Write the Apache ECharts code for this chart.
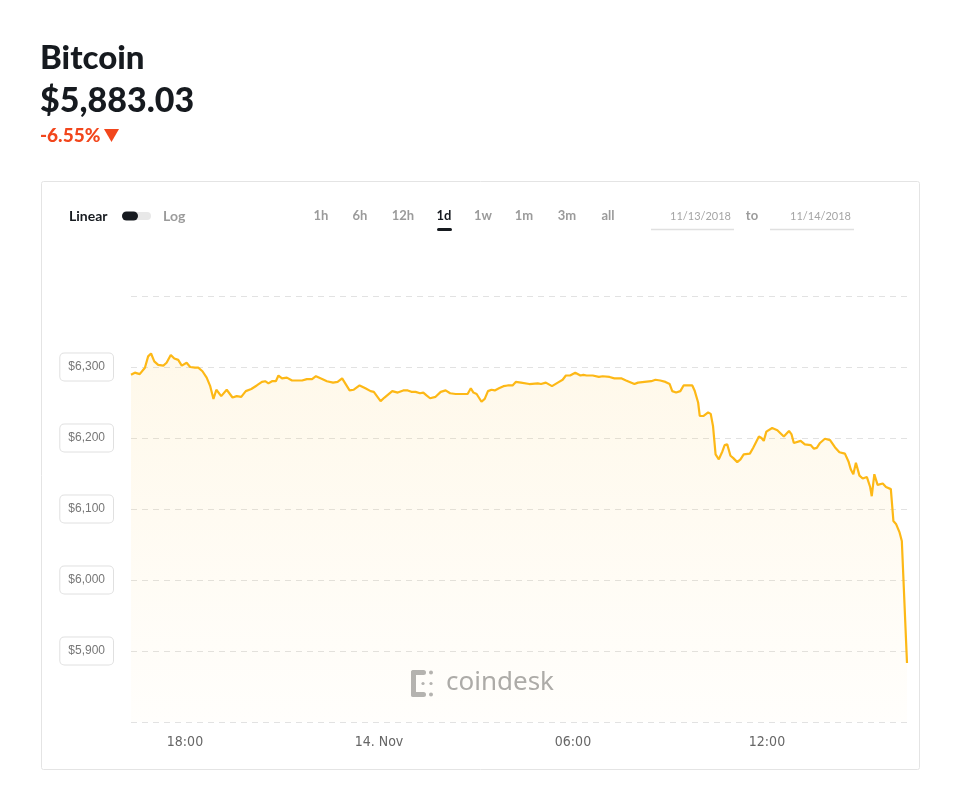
<!DOCTYPE html>
<html>
<head>
<meta charset="utf-8">
<title>Bitcoin</title>
<script src="https://cdn.jsdelivr.net/npm/echarts@6/dist/echarts.min.js"></script>
<style>
  html, body { margin: 0; padding: 0; background: #fff; }
  #main { width: 960px; height: 811px; }
</style>
</head>
<body>
<div id="main"></div>
<script>
// hours counted from 13 Nov 00:00 (so 24 = 14. Nov 00:00)
const hours = [
  16.33, 16.45, 16.60, 16.76, 16.86, 16.95, 17.05, 17.17, 17.33, 17.43,
  17.56, 17.67, 17.79, 17.90, 18.05, 18.16, 18.31, 18.41, 18.54, 18.67,
  18.78, 18.88, 18.97, 19.12, 19.29, 19.47, 19.60, 19.74, 19.88, 20.05,
  20.22, 20.38, 20.48, 20.58, 20.69, 20.81, 20.89, 21.00, 21.15, 21.31,
  21.46, 21.62, 21.77, 21.93, 22.05, 22.19, 22.39, 22.58, 22.72, 22.86,
  23.09, 23.22, 23.40, 23.58, 23.74, 23.84, 24.05, 24.17, 24.41, 24.58,
  24.75, 24.89, 25.00, 25.13, 25.27, 25.37, 25.47, 25.58, 25.75, 25.91,
  26.06, 26.20, 26.37, 26.53, 26.74, 26.84, 26.92, 27.02, 27.17, 27.27,
  27.37, 27.48, 27.58, 27.71, 27.85, 27.98, 28.13, 28.23, 28.39, 28.65,
  28.91, 29.01, 29.16, 29.35, 29.53, 29.68, 29.78, 29.91, 30.07, 30.23,
  30.32, 30.42, 30.61, 30.80, 30.92, 31.13, 31.28, 31.49, 31.64, 31.90,
  32.01, 32.21, 32.42, 32.55, 32.70, 32.86, 32.99, 33.07, 33.19, 33.32,
  33.42, 33.56, 33.69, 33.76, 33.87, 33.92, 34.04, 34.10, 34.18, 34.26,
  34.33, 34.41, 34.51, 34.62, 34.69, 34.77, 34.87, 34.95, 35.08, 35.18,
  35.28, 35.47, 35.57, 35.75, 35.83, 35.90, 35.98, 36.16, 36.32, 36.52,
  36.68, 36.76, 36.83, 37.04, 37.17, 37.35, 37.45, 37.54, 37.64, 37.79,
  37.95, 38.10, 38.24, 38.41, 38.52, 38.59, 38.67, 38.75, 38.86, 38.96,
  39.09, 39.19, 39.24, 39.32, 39.42, 39.58, 39.68, 39.83, 39.91, 39.99,
  40.10, 40.17, 40.33
];
const prices = [
  6289, 6292, 6290, 6299, 6315, 6319, 6308, 6303, 6302, 6306,
  6317, 6312, 6310, 6302, 6306, 6300, 6299, 6299, 6294, 6285,
  6273, 6255, 6268, 6259, 6268, 6257, 6259, 6258, 6266, 6269,
  6274, 6279, 6280, 6277, 6280, 6280, 6288, 6284, 6285, 6281,
  6281, 6281, 6283, 6283, 6287, 6284, 6280, 6278, 6279, 6284,
  6267, 6268, 6274, 6270, 6266, 6265, 6252, 6257, 6266, 6264,
  6267, 6267, 6265, 6265, 6263, 6264, 6260, 6256, 6258, 6265,
  6267, 6263, 6262, 6262, 6262, 6270, 6264, 6262, 6251, 6255,
  6266, 6268, 6267, 6270, 6273, 6274, 6274, 6279, 6278, 6276,
  6277, 6276, 6278, 6273, 6278, 6282, 6288, 6288, 6292, 6288,
  6289, 6288, 6288, 6286, 6287, 6286, 6284, 6284, 6281, 6276,
  6278, 6279, 6280, 6282, 6281, 6279, 6276, 6266, 6264, 6266,
  6274, 6274, 6274, 6267, 6250, 6231, 6231, 6229, 6236, 6234,
  6217, 6177, 6170, 6181, 6190, 6191, 6175, 6172, 6166, 6170,
  6177, 6178, 6186, 6202, 6200, 6196, 6209, 6214, 6211, 6202,
  6210, 6205, 6193, 6196, 6191, 6190, 6185, 6186, 6193, 6199,
  6197, 6187, 6180, 6178, 6167, 6156, 6149, 6165, 6147, 6143,
  6145, 6131, 6118, 6149, 6134, 6136, 6131, 6128, 6083, 6079,
  6067, 6055, 5883.03
];
const xTickHours = [18, 24, 30, 36];
const rangeButtons = ['1h', '6h', '12h', '1d', '1w', '1m', '3m', 'all'];
const rangeButtonX = [321, 360, 403, 444, 483, 524, 567, 608];
const activeRange = '1d';
const fromDate = '11/13/2018';
const toDate = '11/14/2018';

const chart = echarts.init(document.getElementById('main'));

const uiFont = 'Lato, "Noto Sans", sans-serif';
const grayText = '#9b9b9b';
const darkText = '#161a1f';
const red = '#f2461c';

// small helper so text is placed by its anchor point, not its box
function label(text, x, y, font, fill, align) {
  return {
    type: 'text', x: x, y: y,
    style: { text: text, align: align || 'left', verticalAlign: 'middle', font: font, fill: fill }
  };
}

const buttonTexts = rangeButtons.map(function (b, i) {
  return label(b, rangeButtonX[i], 216, 'bold 13px ' + uiFont,
    b === activeRange ? darkText : grayText, 'center');
});

const option = {
  animation: false,
  grid: { left: 131, right: 53, top: 296, bottom: 89 },
  xAxis: {
    type: 'value',
    min: hours[0],
    max: hours[hours.length - 1],
    axisLine: { show: false },
    axisTick: { show: false },
    splitLine: { show: false },
    axisLabel: {
      customValues: xTickHours,
      margin: 13,
      color: '#666',
      fontSize: 14,
      fontFamily: '"Liberation Sans Narrow", "DejaVu Sans Condensed", "Liberation Sans", sans-serif',
      formatter: function (v) {
        const h = Math.round(v) % 24;
        if (h === 0) return '14. Nov';
        return (h < 10 ? '0' + h : h) + ':00';
      }
    }
  },
  yAxis: {
    type: 'value',
    min: 5800,
    max: 6400,
    interval: 100,
    axisLine: { show: false },
    axisTick: { show: false },
    splitLine: { lineStyle: { color: '#e2e2e2', type: [6, 5], width: 1 } },
    axisLabel: {
      showMinLabel: false,
      showMaxLabel: false,
      margin: 18,
      color: '#777',
      fontSize: 12,
      fontFamily: '"Liberation Sans", Arial, sans-serif',
      backgroundColor: '#fff',
      borderColor: '#e0e0e0',
      borderWidth: 1,
      borderRadius: 4,
      padding: [8, 8, 7, 8],
      formatter: function (v) {
        return '$' + v.toLocaleString('en-US');
      }
    }
  },
  graphic: [
    {
      type: 'rect', z: -1,
      shape: { x: 41.5, y: 181.5, width: 878, height: 588, r: 2 },
      style: { fill: '#fff', stroke: '#e4e4e4', lineWidth: 1 }
    },
    label('Bitcoin', 40, 58, '900 33px ' + uiFont, darkText),
    label('$5,883.03', 40, 101, '900 34px ' + uiFont, darkText),
    label('-6.55%', 40, 136, '900 19px ' + uiFont, red),
    {
      type: 'polygon',
      shape: { points: [[104, 129], [119, 129], [111.5, 142]] },
      style: { fill: red }
    },
    label('Linear', 69, 216, 'bold 14px ' + uiFont, darkText),
    {
      type: 'rect',
      shape: { x: 122, y: 212, width: 29, height: 8, r: 4 },
      style: { fill: '#e8e8e8' }
    },
    {
      type: 'rect',
      shape: { x: 122, y: 211.5, width: 16, height: 9, r: 4.5 },
      style: { fill: darkText }
    },
    label('Log', 163, 216, 'bold 14px ' + uiFont, grayText)
  ].concat(buttonTexts).concat([
    {
      type: 'rect',
      shape: { x: 437, y: 228, width: 15, height: 3, r: 1.5 },
      style: { fill: darkText }
    },
    label(fromDate, 731, 216, '11px ' + uiFont, '#a5a5a5', 'right'),
    {
      type: 'line',
      shape: { x1: 651, y1: 229.5, x2: 734, y2: 229.5 },
      style: { stroke: '#e0e0e0', lineWidth: 1.5 }
    },
    label('to', 752, 216, 'bold 13px ' + uiFont, grayText, 'center'),
    label(toDate, 851, 216, '11px ' + uiFont, '#a5a5a5', 'right'),
    {
      type: 'line',
      shape: { x1: 770, y1: 229.5, x2: 854, y2: 229.5 },
      style: { stroke: '#e0e0e0', lineWidth: 1.5 }
    },
    // coindesk watermark
    {
      type: 'group', z: 10,
      children: [
        { type: 'rect', shape: { x: 411, y: 670, width: 15, height: 5, r: 2.5 }, style: { fill: '#b3b3b3' } },
        { type: 'rect', shape: { x: 411, y: 670, width: 5, height: 27, r: 2.5 }, style: { fill: '#b3b3b3' } },
        { type: 'rect', shape: { x: 411, y: 692, width: 15, height: 5, r: 2.5 }, style: { fill: '#b3b3b3' } },
        { type: 'circle', shape: { cx: 431, cy: 672.5, r: 2 }, style: { fill: '#b3b3b3' } },
        { type: 'circle', shape: { cx: 423, cy: 683.5, r: 1.6 }, style: { fill: '#b3b3b3' } },
        { type: 'circle', shape: { cx: 431, cy: 683.5, r: 1.6 }, style: { fill: '#b3b3b3' } },
        { type: 'circle', shape: { cx: 431, cy: 694.5, r: 2 }, style: { fill: '#b3b3b3' } },
        label('coindesk', 446, 683, '26px "Noto Sans", sans-serif', '#ababab')
      ]
    }
  ]),
  series: [
    {
      type: 'line',
      data: hours.map(function (h, i) { return [h, prices[i]]; }),
      showSymbol: false,
      symbol: 'none',
      lineStyle: { color: '#fdb816', width: 2.2 },
      itemStyle: { color: '#fdb816' },
      areaStyle: {
        color: new echarts.graphic.LinearGradient(0, 0, 0, 1, [
          { offset: 0, color: 'rgba(253,184,22,0.13)' },
          { offset: 1, color: 'rgba(253,184,22,0.02)' }
        ])
      }
    }
  ]
};

chart.setOption(option);
</script>
</body>
</html>
